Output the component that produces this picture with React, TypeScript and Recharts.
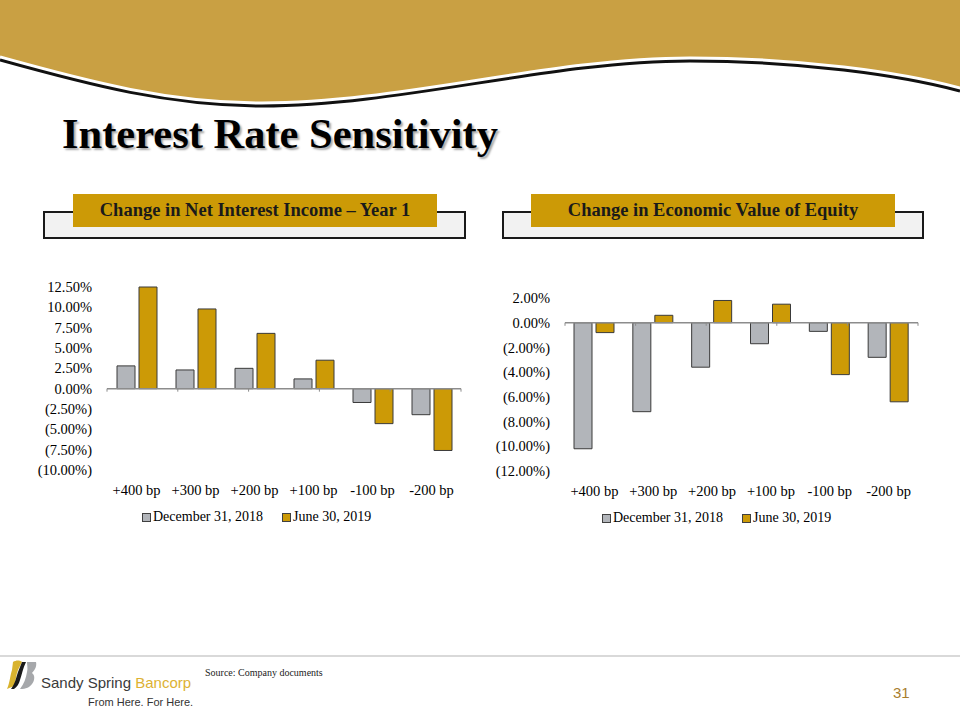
import React from "react";
import {
  BarChart,
  Bar,
  XAxis,
  YAxis,
  Legend,
  ReferenceLine,
} from "recharts";

const categories = ["+400 bp", "+300 bp", "+200 bp", "+100 bp", "-100 bp", "-200 bp"];
const seriesNames = ["December 31, 2018", "June 30, 2019"];

const niiDec2018 = [2.8, 2.3, 2.5, 1.2, -1.7, -3.2];
const niiJun2019 = [12.5, 9.8, 6.8, 3.5, -4.3, -7.6];
const niiTicks = [-10, -7.5, -5, -2.5, 0, 2.5, 5, 7.5, 10, 12.5];

const eveDec2018 = [-10.2, -7.2, -3.6, -1.7, -0.7, -2.8];
const eveJun2019 = [-0.8, 0.6, 1.8, 1.5, -4.2, -6.4];
const eveTicks = [-12, -10, -8, -6, -4, -2, 0, 2];

const GRAY = "#B2B5BA";
const GOLD = "#CC9A06";
const SERIF = "'Liberation Serif', 'DejaVu Serif', serif";
const SANS = "'Liberation Sans', Arial, sans-serif";

const niiData = categories.map((cat, i) => ({ cat, dec: niiDec2018[i], jun: niiJun2019[i] }));
const eveData = categories.map((cat, i) => ({ cat, dec: eveDec2018[i], jun: eveJun2019[i] }));
const edges = [...categories.map((_, i) => i), categories.length];

const pct = (v: number) =>
  v < 0 ? `(${Math.abs(v).toFixed(2)}%)` : `${v.toFixed(2)}%`;

const renderLegend = (props: any) => {
  const { payload } = props;
  return (
    <div
      style={{
        display: "flex",
        height: 20,
        alignItems: "center",
        fontFamily: SERIF,
        fontSize: 14,
        color: "#000",
        whiteSpace: "nowrap",
      }}
    >
      {(payload || []).map((entry: any, i: number) => (
        <span key={i} style={{ display: "flex", alignItems: "center", marginRight: 19 }}>
          <span
            style={{
              width: 7,
              height: 7,
              background: entry.color,
              border: "1px solid #404040",
              marginRight: 2,
            }}
          />
          {entry.value}
        </span>
      ))}
    </div>
  );
};

type SensProps = {
  data: any[];
  ticks: number[];
  left: number;
  top: number;
  height: number;
  yWidth: number;
  marginTop: number;
  marginRight: number;
  tickDepth: number;
};

const SensitivityChart = ({ data, ticks, left, top, height, yWidth, marginTop, marginRight, tickDepth }: SensProps) => (
  <div style={{ position: "absolute", left, top }}>
    <BarChart
      width={450}
      height={height}
      data={data}
      margin={{ top: marginTop, right: marginRight, bottom: 0, left: 0 }}
      barSize={18}
      barGap={4}
    >
      <XAxis
        dataKey="cat"
        height={37}
        axisLine={false}
        tickLine={false}
        tickMargin={9}
        interval={0}
        tick={{ fill: "#000", fontSize: 14.5, fontFamily: SERIF }}
      />
      <XAxis xAxisId="edge" type="number" domain={[0, categories.length]} hide />
      <YAxis
        ticks={ticks}
        domain={[ticks[0], ticks[ticks.length - 1]]}
        interval={0}
        width={yWidth}
        axisLine={false}
        tickLine={false}
        tickMargin={9}
        tickFormatter={pct}
        tick={{ fill: "#000", fontSize: 14.5, fontFamily: SERIF }}
      />
      <Legend
        verticalAlign="bottom"
        align="left"
        content={renderLegend}
        wrapperStyle={{ left: 122 }}
      />
      <Bar dataKey="dec" name={seriesNames[0]} fill={GRAY} stroke="#3a3a3a" strokeWidth={1} isAnimationActive={false} />
      <Bar dataKey="jun" name={seriesNames[1]} fill={GOLD} stroke="#3a3a3a" strokeWidth={1} isAnimationActive={false} />
      <ReferenceLine y={0} stroke="#8c8c8c" strokeWidth={1.5} />
      {edges.map((e) => (
        <ReferenceLine
          key={e}
          xAxisId="edge"
          segment={[
            { x: e, y: 0 },
            { x: e, y: -tickDepth },
          ]}
          stroke="#8c8c8c"
          strokeWidth={1}
        />
      ))}
    </BarChart>
  </div>
);

const PanelHeader = ({ title, boxLeft, boxRight, labelLeft, labelRight }: any) => (
  <>
    <div
      style={{
        position: "absolute",
        left: boxLeft,
        top: 211,
        width: boxRight - boxLeft,
        height: 28,
        background: "#F2F2F2",
        border: "2px solid #1a1a1a",
        boxSizing: "border-box",
      }}
    />
    <div
      style={{
        position: "absolute",
        left: labelLeft,
        top: 194,
        width: labelRight - labelLeft,
        height: 33,
        background: GOLD,
        display: "flex",
        alignItems: "center",
        justifyContent: "center",
        fontFamily: SERIF,
        fontWeight: "bold",
        fontSize: 18.5,
        color: "#1a1a1a",
      }}
    >
      {title}
    </div>
  </>
);

export default function App() {
  const wave = "M0,57 C90,82 170,103 262,103 C400,103 550,58 690,58 C800,58 900,72 960,88";
  return (
    <div
      style={{
        position: "absolute",
        left: 0,
        top: 0,
        width: 960,
        height: 720,
        background: "#fff",
        overflow: "hidden",
        fontFamily: SERIF,
      }}
    >
      <svg width={960} height={120} style={{ position: "absolute", left: 0, top: 0 }}>
        <path d={`${wave} L960,0 L0,0 Z`} fill="#C9A043" />
        <path d={wave} fill="none" stroke="#fff" strokeWidth={3} />
        <path d={wave} transform="translate(0,3)" fill="none" stroke="#111" strokeWidth={3} />
      </svg>

      <div
        style={{
          position: "absolute",
          left: 62,
          top: 109,
          fontFamily: SERIF,
          fontWeight: "bold",
          fontSize: 42.5,
          lineHeight: "50px",
          color: "#000",
          textShadow: "2px 2px 2px rgba(0,0,0,0.35)",
          whiteSpace: "nowrap",
        }}
      >
        Interest Rate Sensitivity
      </div>

      <PanelHeader title="Change in Net Interest Income – Year 1" boxLeft={43} boxRight={466} labelLeft={73} labelRight={437} />
      <PanelHeader title="Change in Economic Value of Equity" boxLeft={502} boxRight={924} labelLeft={531} labelRight={895} />

      <SensitivityChart
        data={niiData}
        ticks={niiTicks}
        left={20}
        top={275}
        height={252}
        yWidth={87}
        marginTop={12}
        marginRight={9}
        tickDepth={0.37}
      />
      <SensitivityChart
        data={eveData}
        ticks={eveTicks}
        left={480}
        top={275}
        height={253}
        yWidth={85}
        marginTop={23}
        marginRight={12}
        tickDepth={0.25}
      />

      <div style={{ position: "absolute", left: 0, top: 655, width: 960, height: 2, background: "#d9d9d9" }} />

      <svg width={40} height={36} style={{ position: "absolute", left: 4, top: 658 }}>
        <path d="M9,4 C12,2 16,2 18,4 L14,12 C12,17 12,22 10,28 L3,31 C6,24 6,18 8,12 Z" fill="#D9B32E" />
        <path d="M18,4 L22,4 C19,10 18,16 16,22 C15,26 13,29 10,31 L7,31 C11,26 12,20 14,14 Z" fill="#1a1a1a" />
        <path d="M23,4 L32,4 C33,8 31,12 28,15 C31,17 31,22 28,26 C26,29 22,31 16,31 C20,26 22,20 23,14 C24,10 23,7 23,4 Z" fill="#A6A8AB" />
      </svg>
      <div
        style={{
          position: "absolute",
          left: 41,
          top: 674,
          fontFamily: SANS,
          fontSize: 15,
          lineHeight: "18px",
          whiteSpace: "nowrap",
        }}
      >
        <span style={{ color: "#3a3a3a" }}>Sandy Spring </span>
        <span style={{ color: "#DDB233" }}>Bancorp</span>
      </div>
      <div
        style={{
          position: "absolute",
          left: 88,
          top: 695,
          fontFamily: SANS,
          fontSize: 11,
          lineHeight: "14px",
          color: "#333",
          whiteSpace: "nowrap",
        }}
      >
        From Here. For Here.
      </div>
      <div
        style={{
          position: "absolute",
          left: 205,
          top: 667,
          fontFamily: SERIF,
          fontSize: 10,
          lineHeight: "12px",
          color: "#222",
          whiteSpace: "nowrap",
        }}
      >
        Source: Company documents
      </div>
      <div
        style={{
          position: "absolute",
          left: 893,
          top: 684,
          fontFamily: SANS,
          fontSize: 15,
          lineHeight: "18px",
          color: "#A87E2E",
        }}
      >
        31
      </div>
    </div>
  );
}
